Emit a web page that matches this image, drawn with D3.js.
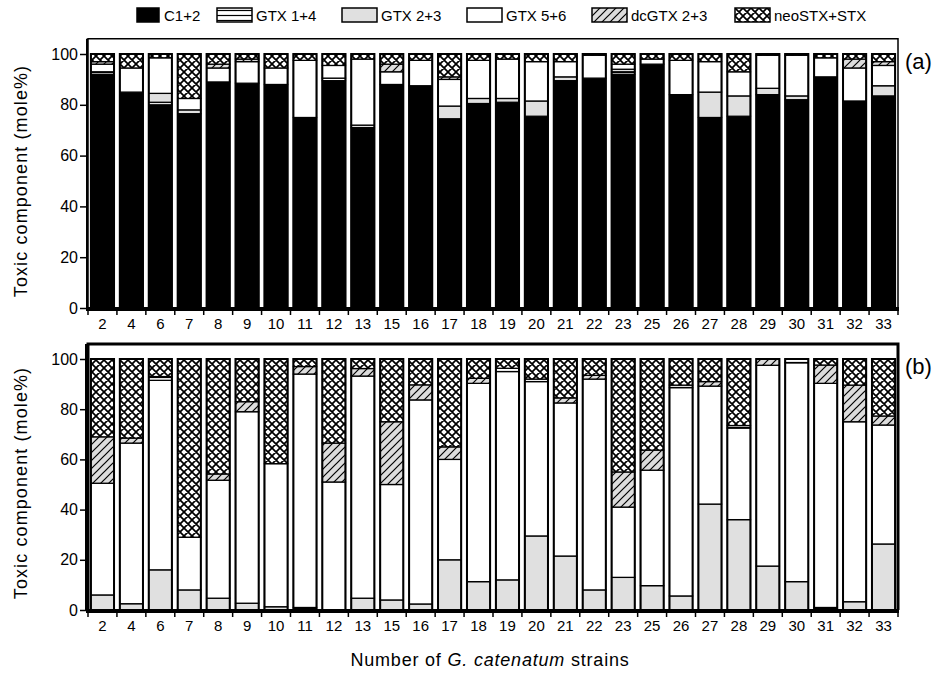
<!DOCTYPE html>
<html>
<head>
<meta charset="utf-8">
<script src="https://cdn.jsdelivr.net/npm/d3@7"></script>
<style>
	body { margin: 0; background: #fff; }
	text { font-family: "Liberation Sans", Arial, sans-serif; }
</style>
</head>
<body>
<div id="chart"></div>
<script>
const strains = ["2", "4", "6", "7", "8", "9", "10", "11", "12", "13", "15", "16", "17", "18", "19", "20", "21", "22", "23", "25", "26", "27", "28", "29", "30", "31", "32", "33"];
const components = ["C1+2", "GTX 1+4", "GTX 2+3", "GTX 5+6", "dcGTX 2+3", "neoSTX+STX"];
const yTicks = [0, 20, 40, 60, 80, 100];

// panel (a), mole% per strain
const a_C12 = [92, 85, 80, 76.5, 89, 88.5, 88, 75, 89.5, 71, 88, 87.5, 74.5, 80.5, 81, 75.5, 89.5, 90.5, 92, 96, 84, 75, 75.5, 84, 82, 91, 81.5, 83.5];
const a_GTX14 = [1, 0, 1, 0, 0, 0, 0, 0, 1, 0, 0, 0, 0, 0, 0, 0, 0, 0, 1, 0, 0, 0, 0, 0, 0, 0, 0, 0];
const a_GTX23 = [0, 0, 3.5, 1.5, 0, 0, 0, 0, 0, 1, 0, 0, 5, 2, 1.5, 6, 1.5, 0, 1, 0, 0, 10, 8, 2.5, 1.5, 0, 0, 4];
const a_GTX56 = [3, 9.5, 14, 4.5, 5.5, 8.5, 6.5, 22.5, 5, 26, 5, 10, 10.5, 15, 15.5, 15.5, 6, 9, 2, 2, 13.5, 12, 9.5, 13, 16, 7.5, 13, 8];
const a_dcGTX = [1, 0, 0, 0, 1.5, 1, 0, 0, 0, 0, 3, 0, 1, 0, 0, 0, 0, 0, 0, 0, 0, 0, 0, 0, 0, 0, 3.5, 1.5];
const a_neo = [3, 5.5, 1.5, 17.5, 4, 2, 5.5, 2.5, 4.5, 2, 4, 2.5, 9, 2.5, 2, 3, 3, 0.5, 4, 2, 2.5, 3, 7, 0.5, 0.5, 1.5, 2, 3];

// panel (b)
const b_C12 = [0, 0, 0, 0, 0, 0, 0, 1, 0, 0, 0, 0, 0, 0, 0, 0, 0, 0, 0, 0, 0, 0, 0, 0, 0, 1, 0, 0];
const b_GTX23 = [6, 2.5, 16, 8, 4.7, 2.7, 1.3, 0, 0, 4.7, 4, 2.4, 20, 11.3, 12, 29.5, 21.5, 8, 13, 9.7, 5.6, 42.2, 36, 17.5, 11.3, 0, 3.3, 26.3];
const b_GTX56 = [44.5, 64, 75.5, 21, 47, 76.3, 57, 93, 51, 88.5, 46, 81.3, 40, 79, 83, 61.5, 61, 84, 28, 46, 83, 47, 36.5, 80, 87.2, 89.3, 71.7, 47.4];
const b_GTX14 = [0, 0, 1.5, 0, 0, 0, 0, 0, 0, 0, 0, 0, 0, 0, 1.3, 1, 0, 0, 0, 0, 1, 0, 1, 0, 1.5, 0, 0, 0];
const b_dcGTX = [18.5, 2, 0, 0, 2.5, 4, 0, 3, 15.5, 3, 25, 6, 5, 2, 0, 0, 2, 1.5, 14, 8, 0, 1.8, 0, 2.5, 0, 7.3, 14.6, 3.6];
const b_neo = [31, 31.5, 7, 71, 45.8, 17, 41.7, 3, 33.5, 3.8, 25, 10.3, 35, 7.7, 3.7, 8, 15.5, 6.5, 45, 36.3, 10.4, 9, 26.5, 0, 0, 2.4, 10.4, 22.7];

const FWIDTH = 943, FHEIGHT = 677;
const PLOT_LEFT = 88, PLOT_RIGHT = 898;

const svg = d3.select("#chart").append("svg")
	.attr("width", FWIDTH)
	.attr("height", FHEIGHT);

// patterns
const defs = svg.append("defs");
const pH = defs.append("pattern").attr("id", "p-hline")
	.attr("patternUnits", "userSpaceOnUse").attr("width", 6).attr("height", 5);
pH.append("rect").attr("width", 6).attr("height", 5).attr("fill", "#fff");
pH.append("line").attr("x1", 0).attr("x2", 6).attr("y1", 2.5).attr("y2", 2.5)
	.attr("stroke", "#000").attr("stroke-width", 1.2);

const pD = defs.append("pattern").attr("id", "p-diag")
	.attr("patternUnits", "userSpaceOnUse").attr("width", 8).attr("height", 8);
pD.append("rect").attr("width", 8).attr("height", 8).attr("fill", "#dcdcdc");
pD.append("path").attr("d", "M-2,2 L2,-2 M0,8 L8,0 M6,10 L10,6")
	.attr("stroke", "#000").attr("stroke-width", 1.2);

const pX = defs.append("pattern").attr("id", "p-cross")
	.attr("patternUnits", "userSpaceOnUse").attr("width", 8).attr("height", 8);
pX.append("rect").attr("width", 8).attr("height", 8).attr("fill", "#fff");
pX.append("path").attr("d", "M0,0 L8,8 M8,0 L0,8 M-2,6 L2,10 M6,-2 L10,2 M-2,2 L2,-2 M6,10 L10,6")
	.attr("stroke", "#000").attr("stroke-width", 1.7);

const fills = {
	"C1+2": "#000",
	"GTX 1+4": "url(#p-hline)",
	"GTX 2+3": "#e0e0e0",
	"GTX 5+6": "#fff",
	"dcGTX 2+3": "url(#p-diag)",
	"neoSTX+STX": "url(#p-cross)"
};

const x = d3.scaleBand()
	.domain(strains)
	.range([PLOT_LEFT, PLOT_RIGHT])
	.paddingInner(0.2)
	.paddingOuter(0.1);

function buildRows(series, keys) {
	return strains.map((s, i) => {
		const row = { strain: s };
		keys.forEach((k, j) => { row[k] = series[j][i]; });
		return row;
	});
}

function drawPanel(opt) {
	const y = d3.scaleLinear().domain([0, 106]).range([opt.bottom, opt.bottom - 106 * opt.unit]);
	const g = svg.append("g");

	const stack = d3.stack().keys(opt.keys);
	const layers = stack(buildRows(opt.series, opt.keys));

	g.selectAll("g.layer")
		.data(layers)
		.enter()
		.append("g")
		.attr("class", "layer")
		.attr("fill", (d) => fills[d.key])
		.selectAll("rect")
		.data((d) => d.filter((v) => v[1] - v[0] > 0))
		.enter()
		.append("rect")
		.attr("x", (d) => x(d.data.strain))
		.attr("width", x.bandwidth())
		.attr("y", (d) => y(d[1]))
		.attr("height", (d) => y(d[0]) - y(d[1]))
		.attr("stroke", "#000")
		.attr("stroke-width", 1.3);

	// bar outlines
	g.selectAll("rect.outline")
		.data(strains)
		.enter()
		.append("rect")
		.attr("class", "outline")
		.attr("x", (d) => x(d))
		.attr("width", x.bandwidth())
		.attr("y", y(100))
		.attr("height", y(0) - y(100))
		.attr("fill", "none")
		.attr("stroke", "#000")
		.attr("stroke-width", 2);

	// frame
	g.append("path")
		.attr("d", `M${PLOT_LEFT},${y(0)} V${y(106)} H${PLOT_RIGHT} V${y(0)}`)
		.attr("fill", "none")
		.attr("stroke", "#000")
		.attr("stroke-width", opt.frameW);
	g.append("line")
		.attr("x1", PLOT_LEFT - 1).attr("x2", PLOT_LEFT - 1)
		.attr("y1", y(0)).attr("y2", y(106))
		.attr("stroke", "#000").attr("stroke-width", opt.leftW);

	// y axis
	const yAxis = g.append("g")
		.attr("transform", `translate(${PLOT_LEFT - 2},0)`)
		.call(d3.axisLeft(y).tickValues(yTicks).tickSize(6).tickPadding(2));
	yAxis.select(".domain").remove();
	yAxis.selectAll("line").attr("stroke-width", 1.5);
	yAxis.selectAll("text")
		.style("font-size", "16px")
		.attr("fill", "#000");

	// x axis: ticks at band edges, labels in the middle
	g.append("line")
		.attr("x1", PLOT_LEFT - 2).attr("x2", PLOT_RIGHT + 1)
		.attr("y1", y(0) + 1).attr("y2", y(0) + 1)
		.attr("stroke", "#000").attr("stroke-width", 4);
	const step = x.step();
	const edges = d3.range(strains.length + 1).map((i) => PLOT_LEFT + i * step);
	g.selectAll("line.xtick")
		.data(edges)
		.enter()
		.append("line")
		.attr("class", "xtick")
		.attr("x1", (d) => d).attr("x2", (d) => d)
		.attr("y1", y(0)).attr("y2", y(0) + 7)
		.attr("stroke", "#000").attr("stroke-width", 1.5);
	g.selectAll("text.xlab")
		.data(strains)
		.enter()
		.append("text")
		.attr("class", "xlab")
		.attr("x", (d) => x(d) + x.bandwidth() / 2)
		.attr("y", y(0) + 21)
		.attr("text-anchor", "middle")
		.style("font-size", "15px")
		.text((d) => d);

	// y title
	g.append("text")
		.attr("transform", `translate(27, ${opt.bottom - 127}) rotate(-90)`)
		.attr("text-anchor", "middle")
		.style("font-size", "18px")
		.style("letter-spacing", "1.1px")
		.text("Toxic component (mole%)");

	// panel tag
	g.append("text")
		.attr("x", PLOT_RIGHT + 7)
		.attr("y", y(100) + 15)
		.style("font-size", "22px")
		.text(opt.tag);
}

drawPanel({
	keys: ["C1+2", "GTX 1+4", "GTX 2+3", "GTX 5+6", "dcGTX 2+3", "neoSTX+STX"],
	series: [a_C12, a_GTX14, a_GTX23, a_GTX56, a_dcGTX, a_neo],
	bottom: 308,
	unit: 2.54,
	frameW: 1.5,
	leftW: 2,
	tag: "(a)"
});

drawPanel({
	keys: ["C1+2", "GTX 2+3", "GTX 5+6", "GTX 1+4", "dcGTX 2+3", "neoSTX+STX"],
	series: [b_C12, b_GTX23, b_GTX56, b_GTX14, b_dcGTX, b_neo],
	bottom: 610,
	unit: 2.51,
	frameW: 3,
	leftW: 4,
	tag: "(b)"
});

// legend
const legendX = [137, 217, 342, 467, 592, 735];
const legend = svg.append("g").attr("class", "legend");
const legendItems = legend.selectAll("g.legend-item")
	.data(components)
	.enter()
	.append("g")
	.attr("class", "legend-item")
	.attr("transform", (d, i) => `translate(${legendX[i]}, 8)`);
legendItems.append("rect")
	.attr("width", (d, i) => (i === 0 ? 22 : 35))
	.attr("height", 14)
	.attr("fill", (d) => fills[d])
	.attr("stroke", "#000")
	.attr("stroke-width", 1.5);
legendItems.append("text")
	.attr("x", (d, i) => (i === 0 ? 27 : 39))
	.attr("y", 13)
	.style("font-size", "15px")
	.text((d) => d);

// x title
const xt = svg.append("text")
	.attr("x", 490)
	.attr("y", 666)
	.attr("text-anchor", "middle")
	.style("font-size", "18px")
	.style("letter-spacing", "0.8px");
xt.append("tspan").text("Number of ");
xt.append("tspan").style("font-style", "italic").text("G. catenatum");
xt.append("tspan").text(" strains");
</script>
</body>
</html>
